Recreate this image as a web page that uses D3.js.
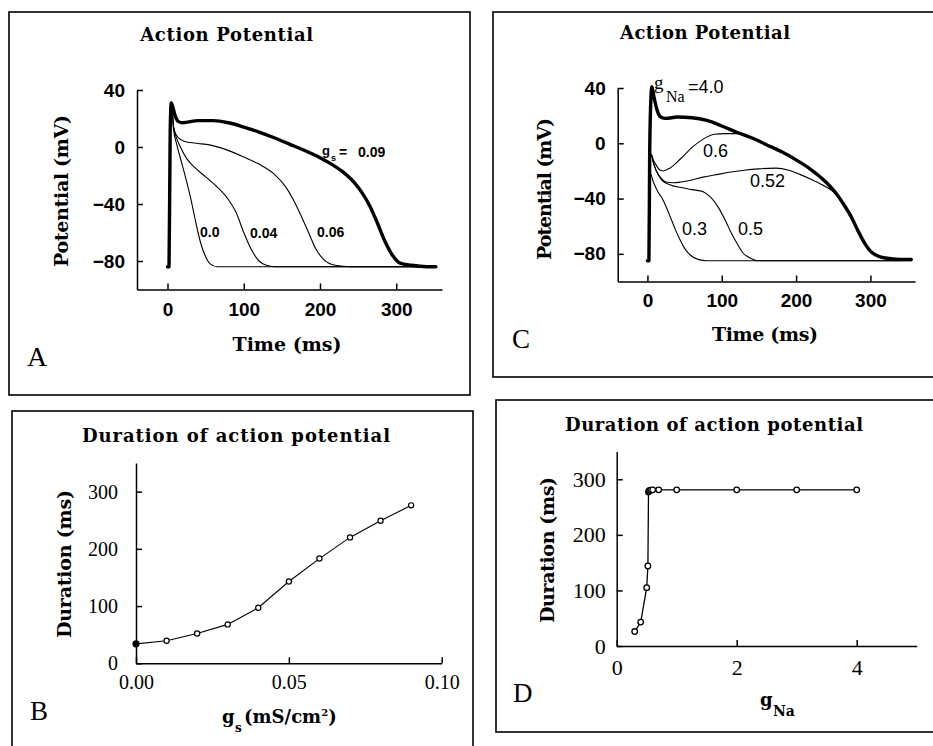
<!DOCTYPE html>
<html><head><meta charset="utf-8">
<script src="https://cdn.jsdelivr.net/npm/d3@7"></script>
<style>body{margin:0;background:#fff}</style>
</head><body>
<svg id="c" width="933" height="746" xmlns="http://www.w3.org/2000/svg"></svg>
<script>
// ---------- Panel A : action potentials for different g_s ----------
const tA_gs009 = [0, 2, 3.5, 5, 7, 10, 14, 20, 40, 60, 80, 100, 120, 140, 160, 180, 200, 215, 230, 245, 255, 265, 275, 285, 295, 305, 320, 340, 352];
const vA_gs009 = [-84, -84, 10, 31, 28, 22, 18, 17, 18.5, 18.5, 17, 14, 10.5, 6.5, 2, -2.5, -7.5, -12, -17.5, -25, -32, -41, -53, -66, -76, -81.5, -83, -84, -84];
const tA_gs006 = [0, 2, 3.5, 5, 8, 12, 18, 25, 40, 55, 75, 100, 120, 140, 155, 165, 175, 185, 195, 205, 220, 240, 350];
const vA_gs006 = [-84, -84, 10, 31, 14, 8, 5, 3.5, 2.5, 1.5, -1.5, -7, -12, -19, -28, -37, -48, -60, -72, -79, -83, -84, -84];
const tA_gs004 = [0, 2, 3.5, 5, 8, 12, 16, 25, 35, 50, 65, 80, 90, 100, 110, 120, 130, 140, 350];
const vA_gs004 = [-84, -84, 10, 31, 14, 6, 1, -8, -14, -21, -28, -37, -46, -60, -72, -80, -83, -84, -84];
const tA_gs000 = [0, 2, 3.5, 5, 8, 12, 18, 24, 30, 36, 40, 45, 50, 56, 65, 75, 350];
const vA_gs000 = [-84, -84, 10, 31, 12, 2, -10, -22, -35, -50, -60, -70, -77, -82, -84, -84, -84];
const apXTicks = [0, 100, 200, 300];
const apYTicks = [-80, -40, 0, 40];
const apYTickLabels = ["\u221280", "\u221240", "0", "40"];

// ---------- Panel C : action potentials for different g_Na ----------
const tC_gNa40 = [0, 2, 3, 4.5, 6, 9, 13, 18, 25, 40, 60, 80, 100, 120, 140, 160, 180, 200, 220, 240, 255, 265, 275, 283, 292, 300, 310, 320, 340, 355];
const vC_gNa40 = [-85, -85, -10, 30, 41, 33, 24, 19, 18, 19, 18.5, 16.5, 12.5, 8, 4, -1, -6, -12, -19, -28, -37, -45, -54, -63, -72, -78, -81.5, -83, -84, -84];
const tC_gNa06 = [0, 2, 3, 5, 8, 12, 16, 21, 30, 45, 60, 75, 90, 105, 120, 130, 140, 160, 180, 200, 220, 240, 255, 265, 275, 283, 292, 300, 310, 320, 340, 355];
const vC_gNa06 = [-85, -85, -20, -8, -12, -16, -19, -20, -18, -11, -3, 3, 6.5, 7, 7, 6.5, 4, -1, -6, -12, -19, -28, -37, -45, -54, -63, -72, -78, -81.5, -83, -84, -84];
const tC_gNa052 = [0, 2, 3, 5, 8, 12, 18, 25, 35, 45, 60, 75, 90, 110, 130, 150, 173, 190, 205, 220, 235, 250, 265, 275, 283, 292, 300, 310, 320, 340, 355];
const vC_gNa052 = [-85, -85, -20, -8, -14, -20, -25, -28, -28.5, -28, -26.5, -24.5, -23, -21, -19.5, -18.5, -18, -19.5, -22.5, -26, -30, -35, -45, -54, -63, -72, -78, -81.5, -83, -84, -84];
const tC_gNa05 = [0, 2, 3, 5, 8, 12, 16, 20, 30, 45, 60, 75, 85, 95, 105, 112, 120, 128, 138, 150, 165, 355];
const vC_gNa05 = [-85, -85, -20, -8, -14, -20, -24, -27, -30, -32, -33.5, -35, -39, -46, -56, -64, -72, -79, -83, -85, -85, -85];
const tC_gNa03 = [0, 2, 3, 4, 8, 14, 20, 26, 32, 38, 44, 50, 58, 68, 80, 355];
const vC_gNa03 = [-85, -85, -40, -22, -28, -35, -40, -47, -55, -63, -70, -76, -81, -84, -85, -85];

// ---------- Panel B : duration vs g_s ----------
const gsValues = [0, 0.01, 0.02, 0.03, 0.04, 0.05, 0.06, 0.07, 0.08, 0.09];
const durationB = [34, 39.5, 52, 68, 97, 143, 183, 220, 249, 276];
const bXTicks = [0, 0.05, 0.10];
const bXTickLabels = ["0.00", "0.05", "0.10"];
const durYTicks = [0, 100, 200, 300];

// ---------- Panel D : duration vs g_Na ----------
const gNaValues = [0.3, 0.4, 0.5, 0.52, 0.53, 0.54, 0.55, 0.57, 0.6, 0.7, 1, 2, 3, 4];
const durationD = [26, 43, 105, 144, 277, 279, 280, 280.5, 281, 281, 281, 281, 281, 281];
const dXTicks = [0, 2, 4];

const SERIF_B = "'DejaVu Serif', serif";
const TIMES = "'Liberation Serif', 'Times New Roman', serif";
const SANS = "'Liberation Sans', Arial, sans-serif";

const svg = d3.select("#c");

function frame(x1, y1, x2, y2) {
  svg.append("rect").attr("x", x1).attr("y", y1).attr("width", x2 - x1).attr("height", y2 - y1)
    .attr("fill", "none").attr("stroke", "#000").attr("stroke-width", 1.6);
}
function txt(x, y, s, o) {
  const t = svg.append("text").attr("x", x).attr("y", y).text(s)
    .attr("font-family", o.family).attr("font-size", o.size)
    .attr("font-weight", o.weight || "normal").attr("text-anchor", o.anchor || "start").attr("fill", "#000");
  if (o.len) t.attr("textLength", o.len).attr("lengthAdjust", "spacing");
  if (o.rot) t.attr("transform", `rotate(-90,${x},${y})`);
  return t;
}
function drawAxes(xs, ys, xt, xtl, yt, ytl, f) {
  const gx = svg.append("g").attr("transform", `translate(0,${ys.range()[0]})`)
    .call(d3.axisBottom(xs).tickValues(xt).tickFormat((d, i) => xtl[i]).tickSizeInner(-6).tickSizeOuter(0).tickPadding(f.xpad));
  const gy = svg.append("g").attr("transform", `translate(${xs.range()[0]},0)`)
    .call(d3.axisLeft(ys).tickValues(yt).tickFormat((d, i) => ytl[i]).tickSizeInner(-6).tickSizeOuter(0).tickPadding(f.ypad));
  [gx, gy].forEach(g => {
    g.selectAll("path,line").attr("stroke", "#000").attr("stroke-width", 1.5);
    g.selectAll("text").attr("font-family", f.family).attr("font-size", f.size).attr("font-weight", f.weight).attr("fill", "#000");
  });
}
function curve(xs, ys, ts, vs, w) {
  const line = d3.line().x(d => xs(d[0])).y(d => ys(d[1])).curve(d3.curveMonotoneX);
  svg.append("path").attr("d", line(ts.map((t, i) => [t, vs[i]])))
    .attr("fill", "none").attr("stroke", "#000").attr("stroke-width", w)
    .attr("stroke-linejoin", "round").attr("stroke-linecap", "round");
}

// ================= Panel A =================
frame(9, 12, 470, 395);
const xA = d3.scaleLinear().domain([-40, 360]).range([137, 442]);
const yA = d3.scaleLinear().domain([-100, 40]).range([289.5, 90]);
drawAxes(xA, yA, apXTicks, apXTicks.map(String), apYTicks, apYTickLabels,
  {family: SANS, size: 19, weight: "bold", xpad: 13, ypad: 12});
curve(xA, yA, tA_gs000, vA_gs000, 1.1);
curve(xA, yA, tA_gs004, vA_gs004, 1.1);
curve(xA, yA, tA_gs006, vA_gs006, 1.1);
curve(xA, yA, tA_gs009, vA_gs009, 3.4);
txt(226.7, 41, "Action Potential", {family: SERIF_B, size: 18, weight: "bold", anchor: "middle", len: 173});
txt(68, 191, "Potential (mV)", {family: SERIF_B, size: 19, weight: "bold", anchor: "middle", len: 152, rot: true});
txt(287, 351, "Time (ms)", {family: SERIF_B, size: 19, weight: "bold", anchor: "middle", len: 109});
txt(27, 366, "A", {family: TIMES, size: 28});
txt(200, 237, "0.0", {family: SANS, size: 14, weight: "bold"});
txt(250, 238, "0.04", {family: SANS, size: 14, weight: "bold"});
txt(317, 237, "0.06", {family: SANS, size: 14, weight: "bold"});
txt(322, 155, "g", {family: SANS, size: 13, weight: "bold"});
txt(331, 161, "s", {family: SANS, size: 9, weight: "bold"});
txt(339, 157, "=", {family: SANS, size: 14, weight: "bold"});
txt(358, 157, "0.09", {family: SANS, size: 14, weight: "bold"});

// ================= Panel C =================
frame(493, 12, 940, 377);
const xC = d3.scaleLinear().domain([-40, 360]).range([617.7, 915]);
const yC = d3.scaleLinear().domain([-100, 40]).range([281.5, 88]);
drawAxes(xC, yC, apXTicks, apXTicks.map(String), apYTicks, apYTickLabels,
  {family: SANS, size: 19, weight: "bold", xpad: 12, ypad: 12});
curve(xC, yC, tC_gNa03, vC_gNa03, 1.1);
curve(xC, yC, tC_gNa05, vC_gNa05, 1.1);
curve(xC, yC, tC_gNa052, vC_gNa052, 1.1);
curve(xC, yC, tC_gNa06, vC_gNa06, 1.1);
curve(xC, yC, tC_gNa40, vC_gNa40, 3.4);
txt(705, 39, "Action Potential", {family: SERIF_B, size: 18, weight: "bold", anchor: "middle", len: 170});
txt(551, 189, "Potential (mV)", {family: SERIF_B, size: 19, weight: "bold", anchor: "middle", len: 142, rot: true});
txt(765, 341, "Time (ms)", {family: SERIF_B, size: 19, weight: "bold", anchor: "middle", len: 106});
txt(512, 348, "C", {family: TIMES, size: 27});
txt(654, 89, "g", {family: TIMES, size: 19});
txt(666, 102, "Na", {family: TIMES, size: 16});
txt(688, 93, "=4.0", {family: SANS, size: 18});
txt(703, 157, "0.6", {family: SANS, size: 18});
txt(750, 187, "0.52", {family: SANS, size: 18});
txt(682, 235, "0.3", {family: SANS, size: 18});
txt(738, 235, "0.5", {family: SANS, size: 18});

// ================= Panel B =================
frame(12, 411, 473, 760);
const xB = d3.scaleLinear().domain([0, 0.1]).range([136, 441.7]);
const yB = d3.scaleLinear().domain([0, 350]).range([663.3, 463]);
drawAxes(xB, yB, bXTicks, bXTickLabels, durYTicks, durYTicks.map(String),
  {family: TIMES, size: 20, weight: "normal", xpad: 12, ypad: 18});
{
  const line = d3.line().x((d, i) => xB(gsValues[i])).y(d => yB(d));
  svg.append("path").attr("d", line(durationB)).attr("fill", "none").attr("stroke", "#000").attr("stroke-width", 1.1);
  svg.selectAll(null).data(durationB).enter().append("circle")
    .attr("cx", (d, i) => xB(gsValues[i])).attr("cy", d => yB(d)).attr("r", (d, i) => i === 0 ? 3 : 2.6)
    .attr("fill", (d, i) => i === 0 ? "#000" : "#fff").attr("stroke", "#000").attr("stroke-width", 1.2);
}
txt(236, 442, "Duration of action potential", {family: SERIF_B, size: 18, weight: "bold", anchor: "middle", len: 308});
txt(71, 564, "Duration (ms)", {family: SERIF_B, size: 19, weight: "bold", anchor: "middle", len: 148, rot: true});
txt(30, 720, "B", {family: TIMES, size: 27});
{
  const t = svg.append("text").attr("y", 723).attr("font-family", SERIF_B).attr("font-weight", "bold").attr("font-size", 18).attr("fill", "#000");
  t.append("tspan").attr("x", 222).text("g");
  t.append("tspan").attr("x", 235).attr("dy", 9).attr("font-size", 12).text("s");
  t.append("tspan").attr("x", 244).attr("dy", -9).text("(mS/cm");
  t.append("tspan").attr("dy", -7).attr("font-size", 10).text("2");
  t.append("tspan").attr("dy", 7).text(")");
}

// ================= Panel D =================
frame(496, 400, 940, 732);
const xD = d3.scaleLinear().domain([0, 5]).range([616.7, 916.7]);
const yD = d3.scaleLinear().domain([0, 350]).range([646, 451.5]);
drawAxes(xD, yD, dXTicks, dXTicks.map(String), durYTicks, durYTicks.map(String),
  {family: TIMES, size: 22, weight: "normal", xpad: 13, ypad: 11});
{
  const line = d3.line().x((d, i) => xD(gNaValues[i])).y(d => yD(d));
  svg.append("path").attr("d", line(durationD)).attr("fill", "none").attr("stroke", "#000").attr("stroke-width", 1.3);
  svg.selectAll(null).data(durationD).enter().append("circle")
    .attr("cx", (d, i) => xD(gNaValues[i])).attr("cy", d => yD(d)).attr("r", 2.8)
    .attr("fill", "#fff").attr("stroke", "#000").attr("stroke-width", 1.3);
}
txt(714, 431, "Duration of action potential", {family: SERIF_B, size: 18, weight: "bold", anchor: "middle", len: 298});
txt(554, 550, "Duration (ms)", {family: SERIF_B, size: 19, weight: "bold", anchor: "middle", len: 146, rot: true});
txt(513, 702, "D", {family: TIMES, size: 27});
txt(760, 706, "g", {family: SERIF_B, size: 18, weight: "bold"});
txt(773, 716, "Na", {family: SERIF_B, size: 14, weight: "bold"});
</script>
</body></html>
